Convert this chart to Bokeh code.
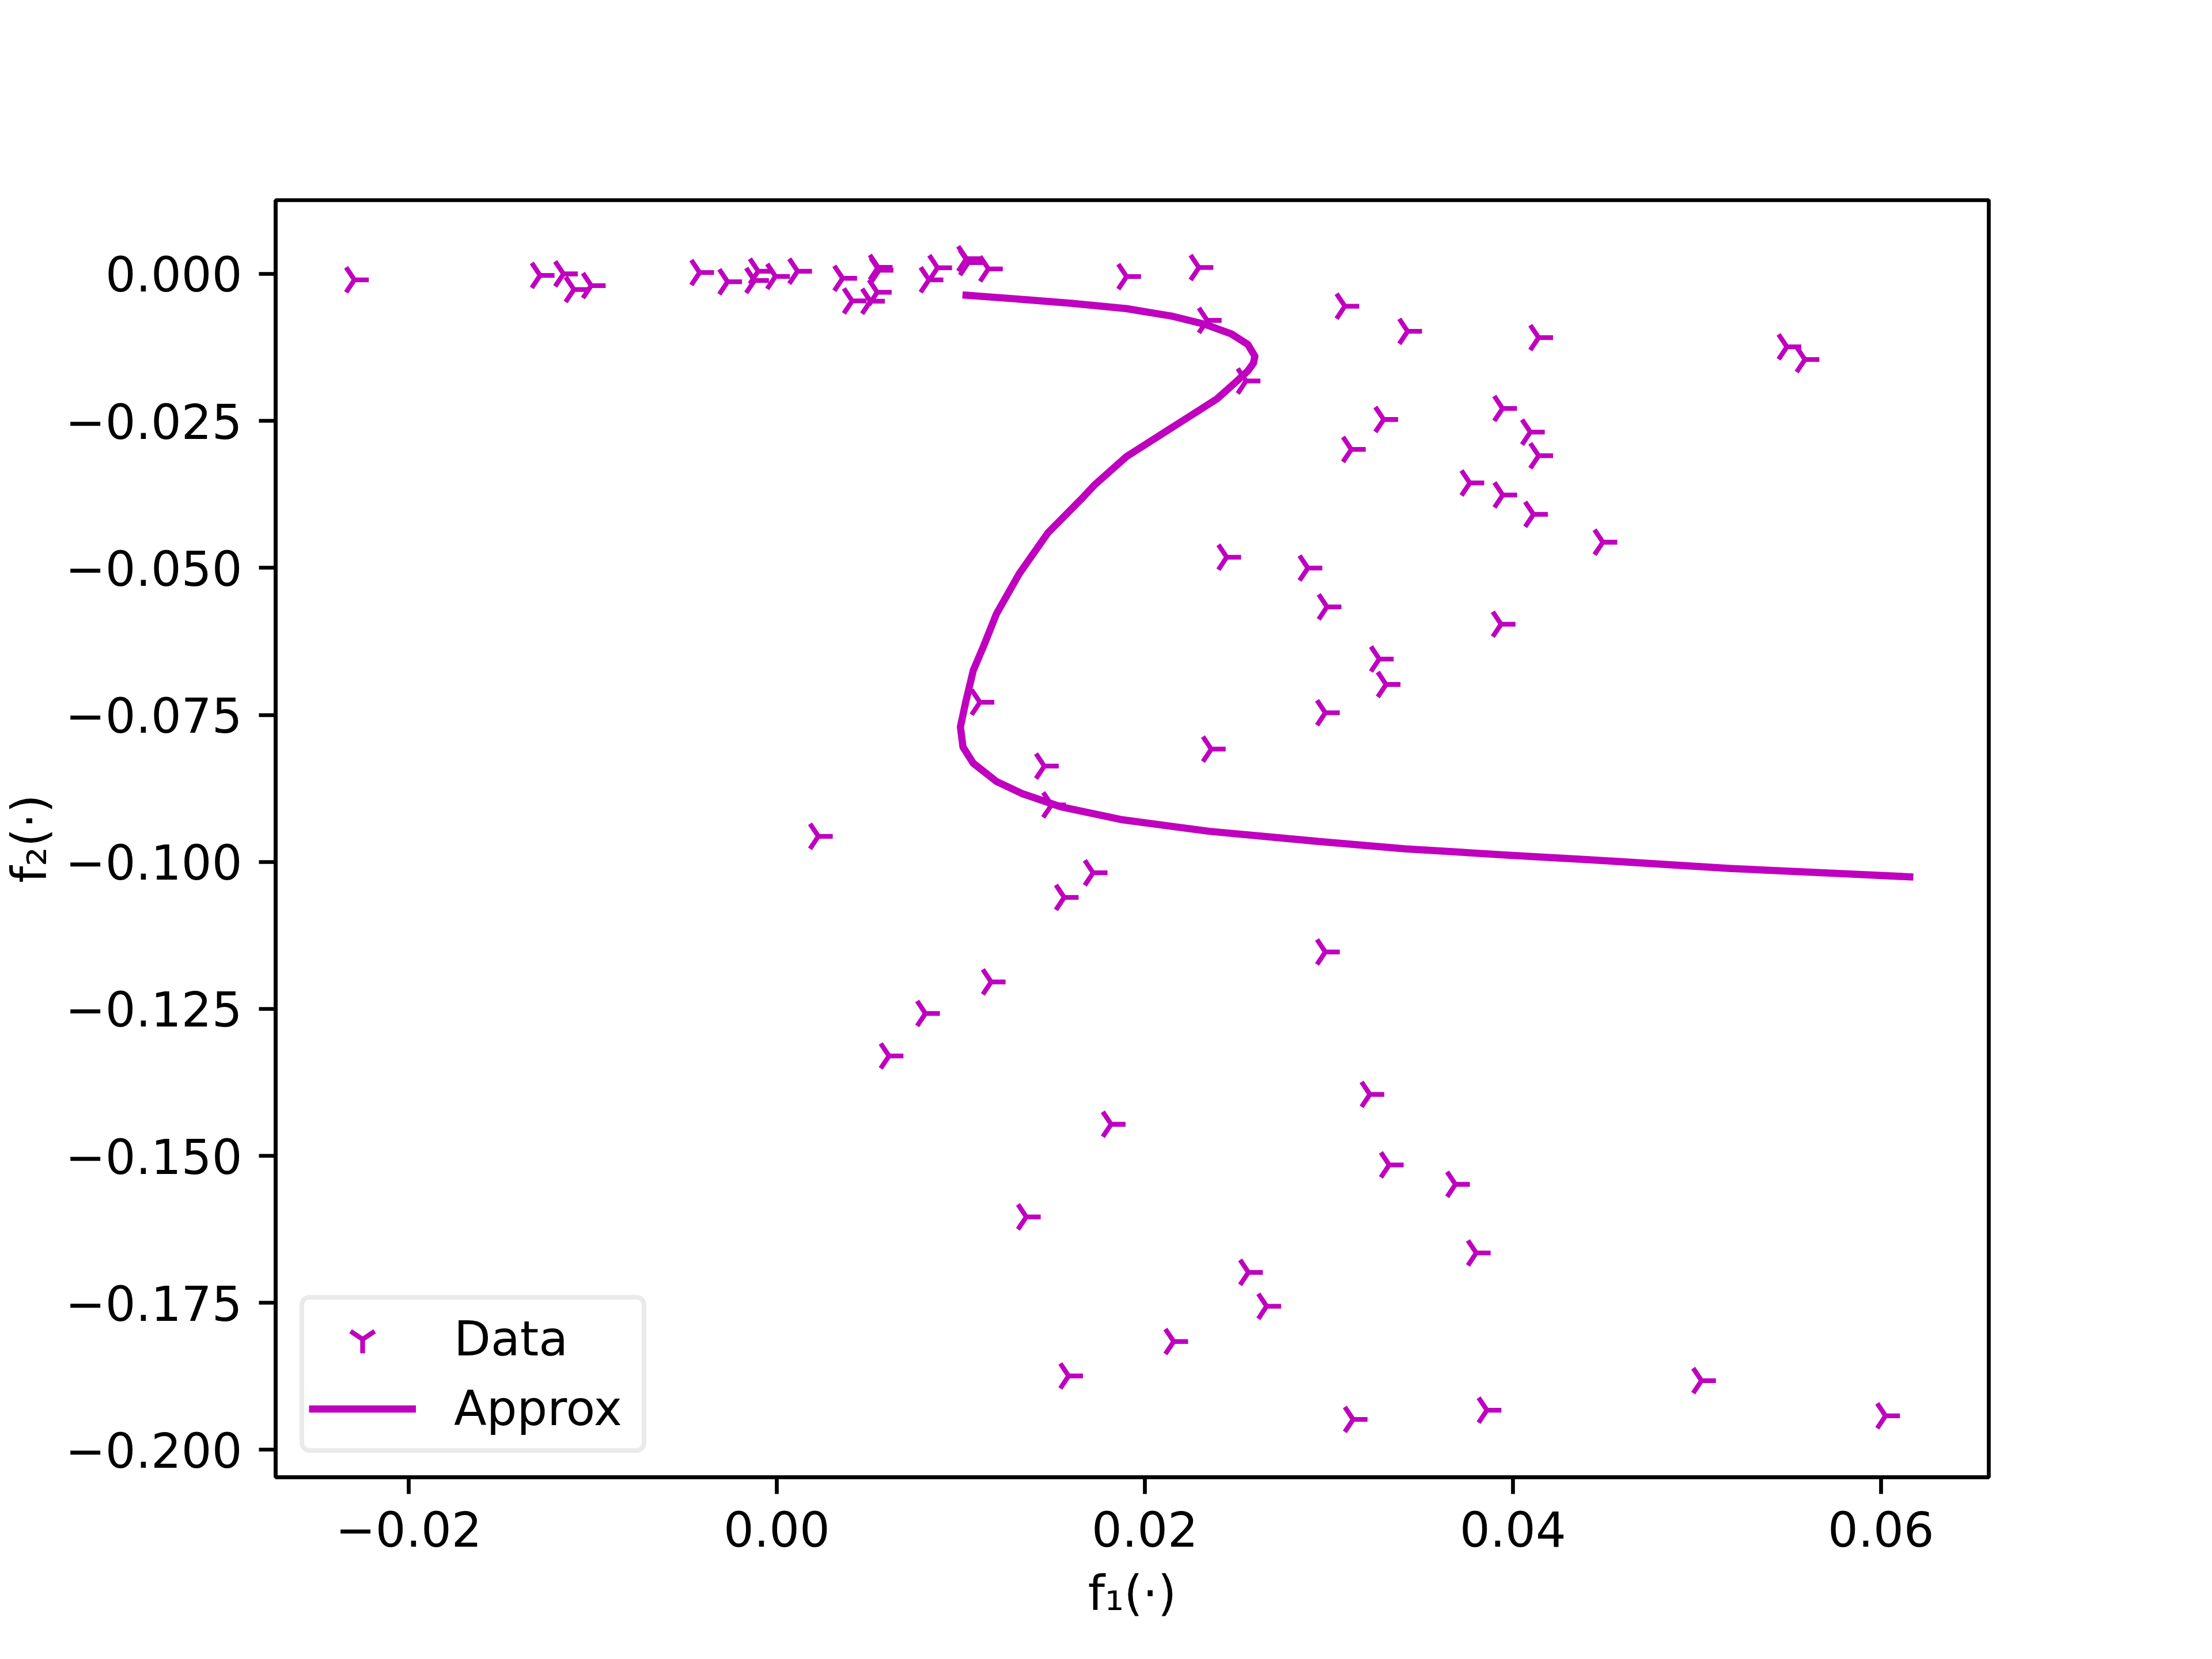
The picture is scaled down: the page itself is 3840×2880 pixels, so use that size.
import numpy as np
from bokeh.plotting import figure
from bokeh.models import (Range1d, FixedTicker, CustomJSTickFormatter, Legend,
                          LegendItem)
from bokeh.embed import file_html
from bokeh.resources import INLINE

# ---- data ----
data_x = [-0.02295, -0.01286, -0.01159, -0.01102, -0.01008, -0.00419, -0.00267,
          -0.00101, -0.00121, -0.00007, 0.00113, 0.00358, 0.00410, 0.00509,
          0.00551, 0.00556, 0.00546, 0.00874, 0.00827, 0.01031, 0.01041, 0.01150,
          0.01901, 0.02294, 0.03087, 0.03428, 0.04140, 0.02339, 0.02550, 0.05489,
          0.05587, 0.03944, 0.03298, 0.04095, 0.03122, 0.04140, 0.03766, 0.03945,
          0.04112, 0.04489, 0.02445, 0.02886, 0.02990, 0.03936, 0.03274, 0.03311,
          0.02981, 0.01104, 0.02361, 0.01454, 0.01493, 0.01719, 0.01562, 0.02981,
          0.00226, 0.01165, 0.00808, 0.00610, 0.03223, 0.01817, 0.03328, 0.03688,
          0.01356, 0.03801, 0.02563, 0.02662, 0.02157, 0.01586, 0.03132, 0.03859,
          0.05025, 0.06025]
data_y = [-0.00101, -0.00026, 0.00000, -0.00265, -0.00199, 0.00023, -0.00134,
          0.00046, -0.00111, -0.00042, 0.00046, -0.00075, -0.00460, -0.00465,
          0.00111, 0.00062, -0.00313, 0.00105, -0.00101, 0.00258, 0.00193, 0.00085,
          -0.00046, 0.00108, -0.00549, -0.00977, -0.01084, -0.00791, -0.01822,
          -0.01241, -0.01457, -0.02289, -0.02476, -0.02691, -0.02985, -0.03093,
          -0.03556, -0.03760, -0.04089, -0.04563, -0.04818, -0.05003, -0.05663,
          -0.05958, -0.06550, -0.06983, -0.07464, -0.07285, -0.08082, -0.08371,
          -0.09031, -0.10186, -0.10604, -0.11532, -0.09565, -0.12042, -0.12578,
          -0.13301, -0.13955, -0.14463, -0.15154, -0.15484, -0.16038, -0.16651,
          -0.16981, -0.17558, -0.18158, -0.18743, -0.19483, -0.19325, -0.18823,
          -0.19421]

approx_x = [0.01009, 0.01300, 0.01600, 0.01900, 0.02150, 0.02330, 0.02470, 0.02560,
            0.02598, 0.02590, 0.02560, 0.02497, 0.02392, 0.02283, 0.02146, 0.01901,
            0.01725, 0.01668, 0.01473, 0.01319, 0.01194, 0.01124, 0.01068, 0.01026,
            0.00998, 0.01012, 0.01068, 0.01194, 0.01333, 0.01540, 0.01870, 0.02350,
            0.02981, 0.03411, 0.03971, 0.04415, 0.05172, 0.06176]
approx_y = [-0.00358, -0.00425, -0.00500, -0.00590, -0.00720, -0.00860, -0.01020,
            -0.01200, -0.01400, -0.01520, -0.01650, -0.01832, -0.02126, -0.02343,
            -0.02616, -0.03106, -0.03595, -0.03787, -0.04406, -0.05092, -0.05780,
            -0.06330, -0.06742, -0.07292, -0.07704, -0.08048, -0.08323, -0.08632,
            -0.08839, -0.09060, -0.09280, -0.09480, -0.09663, -0.09777, -0.09885,
            -0.09963, -0.10110, -0.10257]

x_ticks = [-0.02, 0.0, 0.02, 0.04, 0.06]
y_ticks = [0.0, -0.025, -0.05, -0.075, -0.1, -0.125, -0.15, -0.175, -0.2]

COLOR = "#bf00bf"
FONT = "DejaVu Sans"
FS = "83px"

W, H = 3824, 2864
LEFT, TOP = 476, 347
FW, FH = 2976, 2217

p = figure(width=W, height=H, output_backend="svg", toolbar_location=None,
           x_range=Range1d(-0.02723, 0.06586), y_range=Range1d(-0.20466, 0.01254),
           min_border_left=LEFT, min_border_right=W - LEFT - FW,
           min_border_top=TOP, min_border_bottom=H - TOP - FH)
p.background_fill_color = "white"
p.border_fill_color = "white"
p.outline_line_color = "black"
p.outline_line_width = 6.7
p.xgrid.grid_line_color = None
p.ygrid.grid_line_color = None

sc = p.scatter(data_x, data_y, marker="y", size=50, line_color=COLOR,
               line_width=8.3, fill_color=None, angle=np.pi / 2)
ln = p.line(approx_x, approx_y, line_color=COLOR, line_width=12.5,
            line_join="round")

p.xaxis.ticker = FixedTicker(ticks=x_ticks)
p.yaxis.ticker = FixedTicker(ticks=y_ticks)
p.xaxis.formatter = CustomJSTickFormatter(
    code="return (tick < -1e-12 ? '\u2212' : '') + Math.abs(tick).toFixed(2);")
p.yaxis.formatter = CustomJSTickFormatter(
    code="return (tick < -1e-12 ? '\u2212' : '') + Math.abs(tick).toFixed(3);")

for ax in (p.xaxis[0], p.yaxis[0]):
    ax.major_tick_out = 29
    ax.major_tick_in = 0
    ax.minor_tick_out = 0
    ax.minor_tick_in = 0
    ax.major_tick_line_width = 6.7
    ax.major_tick_line_color = "black"
    ax.axis_line_width = 6.7
    ax.axis_line_color = "black"
    ax.major_label_text_font = FONT
    ax.major_label_text_font_size = FS
    ax.major_label_text_color = "black"
    ax.major_label_standoff = 29
    ax.axis_label_text_font = FONT
    ax.axis_label_text_font_size = FS
    ax.axis_label_text_font_style = "normal"
    ax.axis_label_text_color = "black"

p.xaxis.axis_label = "f\u2081(\u00b7)"
p.yaxis.axis_label = "f\u2082(\u00b7)"
p.xaxis.axis_label_standoff = 30
p.yaxis.axis_label_standoff = 10

legend = Legend(items=[LegendItem(label="Data", renderers=[sc]),
                       LegendItem(label="Approx", renderers=[ln])],
                location="bottom_left", margin=42, padding=8, spacing=0,
                glyph_width=186, glyph_height=121, label_standoff=66,
                label_width=318,
                label_text_font=FONT, label_text_font_size=FS,
                label_text_color="black",
                border_line_color="#d6d6d6", border_line_width=8.3,
                background_fill_color="white", background_fill_alpha=0.8)
try:
    legend.border_radius = 17
except Exception:
    pass
p.add_layout(legend)

open("out.html", "w").write(file_html(p, INLINE))
